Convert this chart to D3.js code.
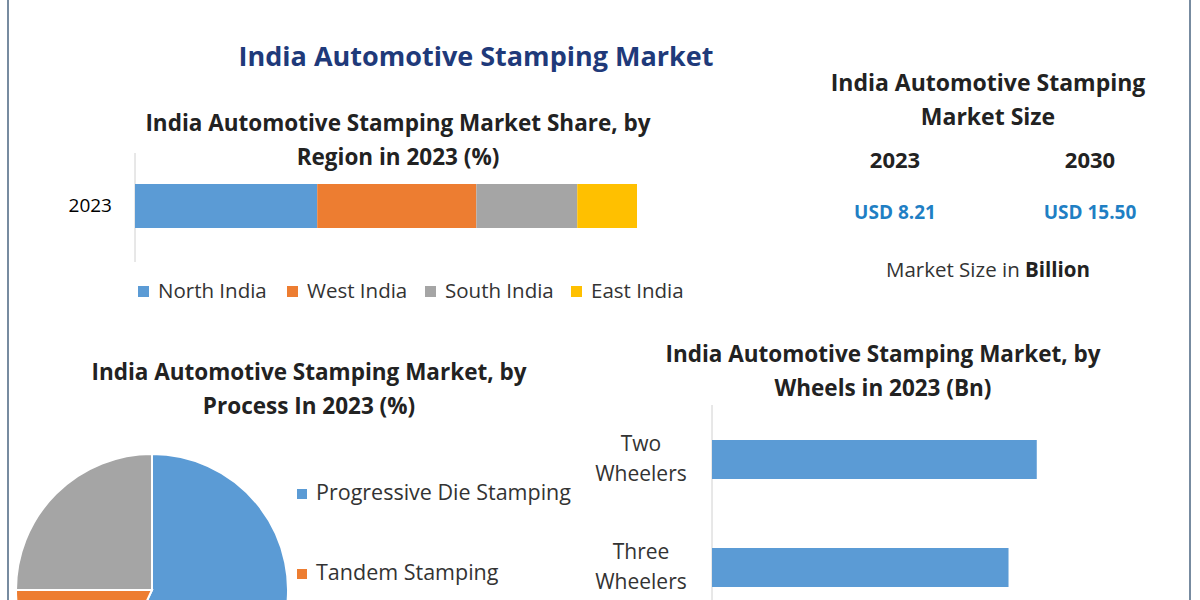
<!DOCTYPE html>
<html><head><meta charset="utf-8">
<script src="https://cdn.jsdelivr.net/npm/d3@7"></script>
<style>body{margin:0;background:#fff}text{font-family:"Open Sans",sans-serif}</style>
</head><body><svg id="chart" width="1200" height="600"></svg>
<script>
// --- data ---
const regions = ["North India", "West India", "South India", "East India"];
const regionShare = [36.3, 31.7, 20.1, 11.9];
const regionColors = ["#5b9bd5", "#ed7d31", "#a5a5a5", "#ffc000"];
const processes = ["Progressive Die Stamping", "Tandem Stamping"];
const processShare = [57, 18, 25];
const processColors = ["#5b9bd5", "#ed7d31", "#a5a5a5"];
const wheels = [["Two", "Wheelers"], ["Three", "Wheelers"]];
const wheelValues = [4.6, 4.2];
const years = ["2023", "2030"];
const sizeLabels = ["USD 8.21", "USD 15.50"];

const svg = d3.select("#chart");
const bold = (x, y, t, size, fill) => svg.append("text").attr("x", x).attr("y", y)
  .attr("text-anchor", "middle").attr("font-size", size).attr("font-weight", 700)
  .attr("fill", fill || "#222").text(t);

svg.append("line").attr("x1", 8).attr("x2", 8).attr("y1", 0).attr("y2", 600).attr("stroke", "#4a6580").attr("stroke-width", 1.5);
svg.append("line").attr("x1", 1190).attr("x2", 1190).attr("y1", 0).attr("y2", 600).attr("stroke", "#4a6580").attr("stroke-width", 1.5);

bold(476, 66, "India Automotive Stamping Market", 27, "#1f3a7a");

// region stacked bar
bold(398, 131, "India Automotive Stamping Market Share, by", 22.5);
bold(398, 165, "Region in 2023 (%)", 22.5);
const xr = d3.scaleLinear().domain([0, 100]).range([135, 637]);
svg.append("line").attr("x1", 135).attr("x2", 135).attr("y1", 153).attr("y2", 262).attr("stroke", "#d0d0d0");
svg.append("text").attr("x", 112).attr("y", 212).attr("text-anchor", "end").attr("font-size", 19).text("2023");
let acc = 0;
regionShare.forEach((v, i) => {
  svg.append("rect").attr("x", xr(acc)).attr("width", xr(acc + v) - xr(acc))
    .attr("y", 184).attr("height", 44).attr("fill", regionColors[i]);
  acc += v;
});
const legX = [138, 287, 425, 571];
regions.forEach((r, i) => {
  svg.append("rect").attr("x", legX[i]).attr("y", 286).attr("width", 11).attr("height", 11).attr("fill", regionColors[i]);
  svg.append("text").attr("x", legX[i] + 20).attr("y", 298).attr("font-size", 20.5).attr("fill", "#333").text(r);
});

// market size panel
bold(988, 91, "India Automotive Stamping", 23);
bold(988, 125, "Market Size", 23);
[895, 1090].forEach((x, i) => {
  bold(x, 168, years[i], 22);
  bold(x, 219, sizeLabels[i], 19, "#1f7fc4");
});
svg.append("text").attr("x", 988).attr("y", 277).attr("text-anchor", "middle").attr("font-size", 20.5).attr("fill", "#333")
  .html('Market Size in <tspan font-weight="700" fill="#222">Billion</tspan>');

// pie
bold(309, 380, "India Automotive Stamping Market, by", 22.5);
bold(309, 414, "Process In 2023 (%)", 22.5);
const pie = d3.pie().sort(null)(processShare);
const arc = d3.arc().innerRadius(0).outerRadius(136);
const pg = svg.append("g").attr("transform", "translate(152,590)");
pg.selectAll("path").data(pie).join("path").attr("d", arc)
  .attr("fill", (d, i) => processColors[i]).attr("stroke", "#fff").attr("stroke-width", 2);
processes.forEach((p, i) => {
  const y = 500 + i * 80;
  svg.append("rect").attr("x", 297).attr("y", y - 11).attr("width", 10).attr("height", 10).attr("fill", processColors[i]);
  svg.append("text").attr("x", 316).attr("y", y).attr("font-size", 21.5).attr("fill", "#333").text(p);
});

// wheels bars
bold(883, 362, "India Automotive Stamping Market, by", 22.5);
bold(883, 396, "Wheels in 2023 (Bn)", 22.5);
const xw = d3.scaleLinear().domain([0, 5]).range([712, 1065]);
svg.append("line").attr("x1", 712).attr("x2", 712).attr("y1", 405).attr("y2", 600).attr("stroke", "#d0d0d0");
wheelValues.forEach((v, i) => {
  const y0 = 440 + i * 108;
  svg.append("rect").attr("x", xw(0)).attr("width", xw(v) - xw(0)).attr("y", y0).attr("height", 39).attr("fill", "#5b9bd5");
  wheels[i].forEach((t, j) => svg.append("text").attr("x", 641).attr("y", y0 + 11 + j * 30)
    .attr("text-anchor", "middle").attr("font-size", 21).attr("fill", "#333").text(t));
});
</script></body></html>
